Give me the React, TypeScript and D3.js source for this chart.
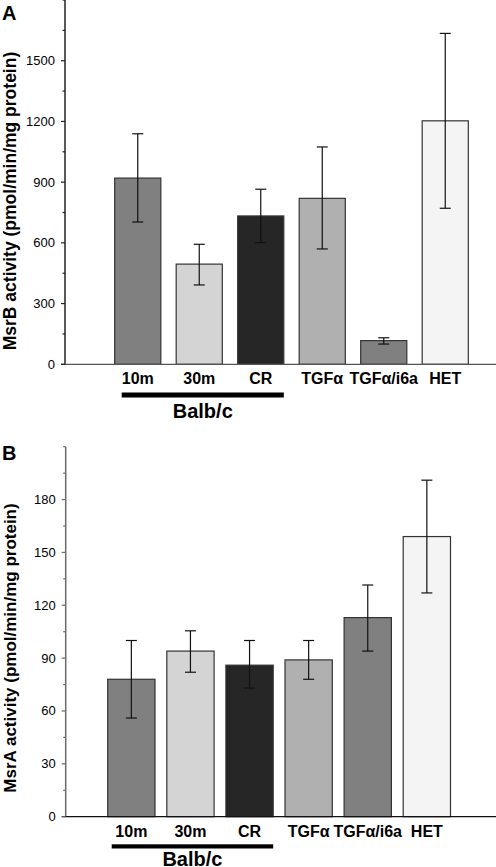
import React from "react";
import * as d3 from "d3";

const categories = ["10m", "30m", "CR", "TGFα", "TGFα/i6a", "HET"];
const barFills = ["#808080", "#d4d4d4", "#262626", "#b0b0b0", "#808080", "#f4f4f4"];

// Panel A: MsrB activity
const msrBMean = [920, 495, 733, 820, 117, 1203];
const msrBLow = [703, 392, 601, 570, 100, 771];
const msrBHigh = [1139, 593, 865, 1074, 131, 1635];
const msrBTicks = [0, 300, 600, 900, 1200, 1500];

// Panel B: MsrA activity
const msrAMean = [78, 94, 86, 89, 113, 159];
const msrALow = [56, 82, 73, 78, 94, 127];
const msrAHigh = [100, 105.5, 100, 100, 131.5, 191];
const msrATicks = [0, 30, 60, 90, 120, 150, 180];

const FONT = "'Liberation Sans', Arial, Helvetica, sans-serif";

type PanelProps = {
  letter: string;
  letterY: number;
  title: string;
  titleX: number;
  titleY: number;
  titleSize: number;
  mean: number[];
  low: number[];
  high: number[];
  ticks: number[];
  yMax: number;
  minorStep: number;
  yTop: number;
  yBottom: number;
  xRange: [number, number];
  padInner: number;
  padOuter: number;
  axisX: number;
  yAxisColor: string;
  baseColor: string;
  labelY: number;
  underlineY: number;
  underlineH: number;
  underlineInset: number;
  groupY: number;
};

function Panel(p: PanelProps) {
  const x = d3
    .scaleBand<string>()
    .domain(categories)
    .range(p.xRange)
    .paddingInner(p.padInner)
    .paddingOuter(p.padOuter);
  const y = d3.scaleLinear().domain([0, p.yMax]).range([p.yBottom, p.yTop]);
  const bw = x.bandwidth();
  const minors = d3.range(0, p.yMax + 0.001, p.minorStep).filter((v) => !p.ticks.includes(v));
  const ulStart = (x("10m") as number) + p.underlineInset;
  const ulEnd = (x("CR") as number) + bw;
  return (
    <g>
      <text x={2} y={p.letterY} fontFamily={FONT} fontWeight="bold" fontSize={20}>
        {p.letter}
      </text>
      <text
        transform={`translate(${p.titleX},${p.titleY}) rotate(-90)`}
        textAnchor="middle"
        dominantBaseline="central"
        fontFamily={FONT}
        fontWeight="bold"
        fontSize={p.titleSize}
      >
        {p.title}
      </text>
      {categories.map((c, i) => (
        <rect
          key={c}
          x={x(c)}
          y={y(p.mean[i])}
          width={bw}
          height={y(0) - y(p.mean[i])}
          fill={barFills[i]}
          stroke="#333"
          strokeWidth={1.2}
        />
      ))}
      {categories.map((c, i) => {
        const cx = (x(c) as number) + bw / 2;
        return (
          <g key={c} stroke="#111" strokeWidth={1.2}>
            <line x1={cx} x2={cx} y1={y(p.high[i])} y2={y(p.low[i])} />
            <line x1={cx - 5.5} x2={cx + 5.5} y1={y(p.high[i])} y2={y(p.high[i])} />
            <line x1={cx - 5.5} x2={cx + 5.5} y1={y(p.low[i])} y2={y(p.low[i])} />
          </g>
        );
      })}
      <line x1={p.axisX} x2={p.axisX} y1={p.yTop} y2={y(0)} stroke={p.yAxisColor} strokeWidth={1.5} />
      <line x1={p.axisX - 4} x2={496} y1={y(0)} y2={y(0)} stroke={p.baseColor} strokeWidth={1.3} />
      {p.ticks.map((t) => (
        <g key={t}>
          <line x1={p.axisX - 4} x2={p.axisX} y1={y(t)} y2={y(t)} stroke={p.yAxisColor} strokeWidth={1.2} />
          <text
            x={p.axisX - 10}
            y={y(t)}
            textAnchor="end"
            dominantBaseline="central"
            fontFamily={FONT}
            fontSize={13}
          >
            {t}
          </text>
        </g>
      ))}
      {minors.map((t) => (
        <line key={t} x1={p.axisX - 2.5} x2={p.axisX} y1={y(t)} y2={y(t)} stroke={p.yAxisColor} strokeWidth={1.2} />
      ))}
      {categories.map((c) => (
        <text
          key={c}
          x={(x(c) as number) + bw / 2}
          y={p.labelY}
          textAnchor="middle"
          fontFamily={FONT}
          fontWeight="bold"
          fontSize={16}
        >
          {c}
        </text>
      ))}
      <rect x={ulStart} y={p.underlineY} width={ulEnd - ulStart} height={p.underlineH} fill="#000" />
      <text
        x={(ulStart + ulEnd) / 2}
        y={p.groupY}
        textAnchor="middle"
        fontFamily={FONT}
        fontWeight="bold"
        fontSize={20}
      >
        Balb/c
      </text>
    </g>
  );
}

export default function App() {
  return (
    <svg
      width={496}
      height={867}
      viewBox="0 0 496 867"
      style={{ position: "absolute", left: 0, top: 0, background: "#fff" }}
    >
      <rect width={496} height={867} fill="#fff" />
      <Panel
        letter="A"
        letterY={20}
        title="MsrB activity (pmol/min/mg protein)"
        titleX={9.5}
        titleY={201}
        titleSize={17.5}
        mean={msrBMean}
        low={msrBLow}
        high={msrBHigh}
        ticks={msrBTicks}
        yMax={1800}
        minorStep={150}
        yTop={0}
        yBottom={364.3}
        xRange={[107, 476]}
        padInner={0.25}
        padOuter={0.125}
        axisX={65}
        yAxisColor="#222"
        baseColor="#555"
        labelY={383.5}
        underlineY={392.5}
        underlineH={5}
        underlineInset={7}
        groupY={417.5}
      />
      <Panel
        letter="B"
        letterY={459.5}
        title="MsrA activity (pmol/min/mg protein)"
        titleX={10.5}
        titleY={648}
        titleSize={17}
        mean={msrAMean}
        low={msrALow}
        high={msrAHigh}
        ticks={msrATicks}
        yMax={210}
        minorStep={15}
        yTop={446.7}
        yBottom={816.7}
        xRange={[101.8, 456.4]}
        padInner={0.2}
        padOuter={0.1}
        axisX={65.7}
        yAxisColor="#6a6a6a"
        baseColor="#111"
        labelY={836.7}
        underlineY={844.3}
        underlineH={4.2}
        underlineInset={4}
        groupY={866}
      />
    </svg>
  );
}
